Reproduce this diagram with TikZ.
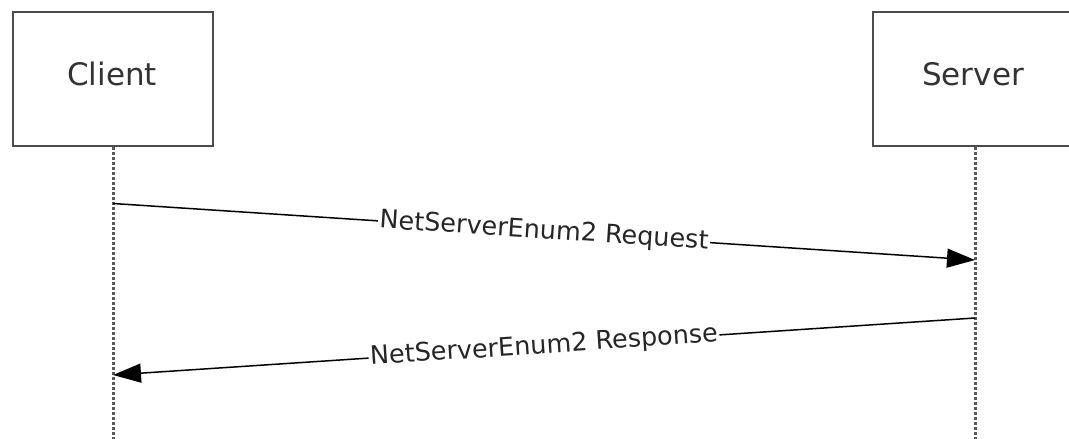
\documentclass[tikz,border=0pt]{standalone}
\usepackage{fontspec}
\setmainfont{DejaVu Sans}
\usetikzlibrary{arrows.meta}
\tikzset{
  actor/.style={draw=black!70, line width=2pt, fill=white, minimum width=200pt, minimum height=134pt, inner sep=0pt, text=black!80, font=\fontsize{31}{36}\selectfont},
  lifeline/.style={draw=black!65, line width=3pt, dash pattern=on 3pt off 2pt},
  msg/.style={draw=black, line width=1.5pt, -{Triangle[length=28pt,width=19pt]}},
  msglabel/.style={midway, sloped, fill=white, inner sep=1.5pt, text=black!85, font=\fontsize{25.5}{30}\selectfont}
}
\begin{document}
\begin{tikzpicture}[x=1pt,y=-1pt]
\useasboundingbox (0,0) rectangle (1069,439);
\node[actor] (client) at (113,79) {};
\node[text=black!80, font=\fontsize{31}{36}\selectfont] (clientlbl) at (112,74) {Client};
\node[actor] (server) at (973,79) {};
\node[text=black!80, font=\fontsize{31}{36}\selectfont] (serverlbl) at (973,74) {Server};
\coordinate (cend) at (113,439);
\coordinate (send) at (975,439);
\coordinate (stop) at (975,147);
\draw[lifeline] (client.south) -- (cend);
\draw[lifeline] (stop) -- (send);
\coordinate (r1) at (113,203.5);
\coordinate (r2) at (975,260);
\coordinate (s1) at (975,318);
\coordinate (s2) at (113,375);
\draw[msg] (r1) -- node[msglabel] {NetServerEnum2 Request} (r2);
\draw[msg] (s1) -- node[msglabel] {NetServerEnum2 Response} (s2);
\end{tikzpicture}
\end{document}
